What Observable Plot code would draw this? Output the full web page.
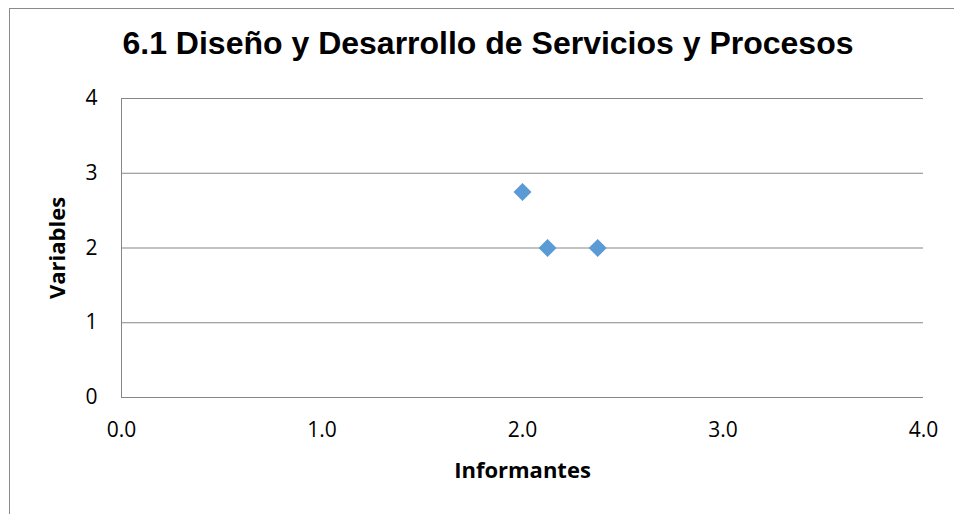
<!DOCTYPE html>
<html>
<head>
<meta charset="utf-8">
<script src="https://cdn.jsdelivr.net/npm/d3@7"></script>
<script src="https://cdn.jsdelivr.net/npm/@observablehq/plot@0.6"></script>
<style>
  html, body { margin: 0; padding: 0; background: #fff; }
  #wrap { position: relative; width: 954px; height: 514px; overflow: hidden; }
  #frame { position: absolute; left: 9px; top: 8px; width: 960px; height: 520px;
           border-top: 1.5px solid #8a8a8a; border-left: 1.5px solid #8a8a8a; box-sizing: border-box; }
  #title { position: absolute; left: 0; width: 976px; top: 25px; text-align: center;
           font-family: "Liberation Sans", Arial, sans-serif; font-weight: bold; font-size: 32px; color: #000; }
  #chart { position: absolute; left: 0; top: 0; }
</style>
</head>
<body>
<div id="wrap">
  <div id="frame"></div>
  <div id="chart"></div>
  <div id="title">6.1 Diseño y Desarrollo de Servicios y Procesos</div>
</div>
<script>
const informantes = [2.0, 2.125, 2.375];
const variables = [2.75, 2.0, 2.0];
const xTicks = [0, 1, 2, 3, 4];
const yTicks = [0, 1, 2, 3, 4];
const gridY = [1, 2, 3, 4];

const points = informantes.map((x, i) => ({x, y: variables[i]}));

const chart = Plot.plot({
  width: 954,
  height: 514,
  marginLeft: 121,
  marginRight: 31,
  marginTop: 98,
  marginBottom: 117,
  style: {fontFamily: "'Open Sans', sans-serif", fontSize: "21px", color: "#000", background: "transparent", overflow: "visible"},
  x: {domain: [0, 4], ticks: xTicks, tickFormat: d3.format(".1f")},
  y: {domain: [0, 4], ticks: yTicks, tickFormat: d3.format("d")},
  marks: [
    Plot.ruleY(gridY, {stroke: "#868686", strokeWidth: 1}),
    Plot.ruleY([0], {stroke: "#868686", strokeWidth: 1}),
    Plot.ruleX([0], {stroke: "#868686", strokeWidth: 1}),
    Plot.axisX({ticks: xTicks, tickSize: 0, tickPadding: 25, tickFormat: d3.format(".1f"), fill: "#000",
      label: "Informantes", labelAnchor: "center", labelArrow: "none", labelOffset: 80,
      fontSize: 21}),
    Plot.axisY({ticks: yTicks, tickSize: 0, tickPadding: 24, tickFormat: d3.format("d"), fill: "#000",
      label: "Variables", labelAnchor: "center", labelArrow: "none", labelOffset: 72,
      fontSize: 21}),
    Plot.dot(points, {x: "x", y: "y", symbol: "diamond2", r: 8.1, fill: "#5B9BD5", stroke: "none"})
  ]
});
// Bold axis labels
chart.querySelectorAll("g[aria-label='x-axis label'] text, g[aria-label='y-axis label'] text").forEach(t => {
  t.setAttribute("font-weight", "bold");
  t.setAttribute("font-size", "22");
});
document.getElementById("chart").appendChild(chart);
</script>
</body>
</html>
